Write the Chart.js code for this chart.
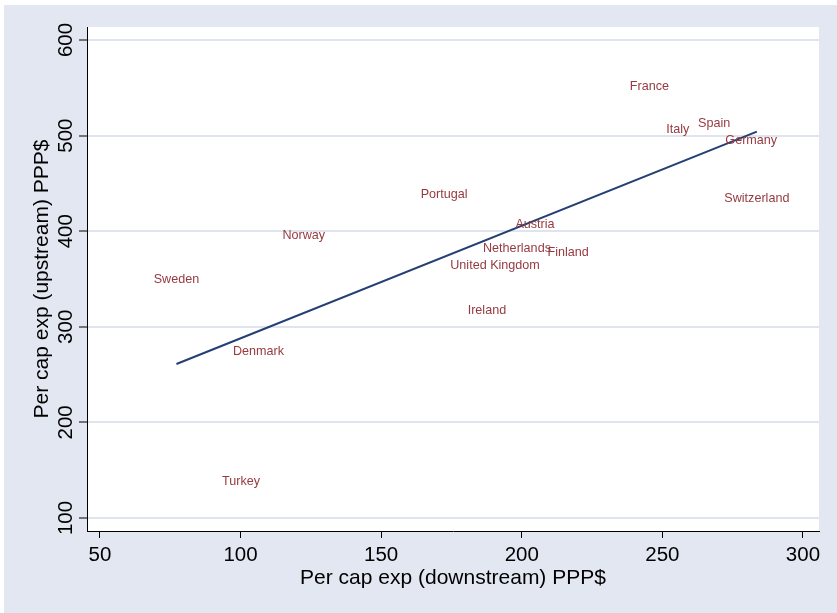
<!DOCTYPE html>
<html>
<head>
<meta charset="utf-8">
<script src="https://cdn.jsdelivr.net/npm/chart.js@4/dist/chart.umd.min.js"></script>
<style>
  html, body { margin: 0; padding: 0; background: #ffffff; }
  #frame { position: absolute; left: 4px; top: 5px; width: 833px; height: 608px; background: #e2e7f1; }
  canvas { display: block; }
</style>
</head>
<body>
<div id="frame"><canvas id="c" width="833" height="608"></canvas></div>
<script>
// Per-capita expenditure by country, PPP$
const countries  = ['France', 'Italy', 'Spain', 'Germany', 'Switzerland', 'Portugal', 'Austria',
                    'Netherlands', 'Finland', 'United Kingdom', 'Ireland', 'Norway', 'Sweden',
                    'Denmark', 'Turkey'];
const downstream = [245.4, 255.5, 268.4, 281.6, 283.6, 172.4, 204.7, 198.3, 216.5, 190.5, 187.6,
                    122.5, 77.2, 106.4, 100.2];
const upstream   = [552.2, 506.9, 513.5, 496.4, 435.5, 439.2, 407.8, 382.7, 378.6, 365.4, 318.6,
                    396.8, 350.3, 275.0, 139.7];

// Linear fit, endpoints at the smallest and largest downstream values
const fitX = [77.2, 283.6];
const fitY = [261.1, 504.1];

const xTicks = [50, 100, 150, 200, 250, 300];
const yTicks = [100, 200, 300, 400, 500, 600];

const xTitle = 'Per cap exp (downstream) PPP$';
const yTitle = 'Per cap exp (upstream) PPP$';

const FONT = '"Liberation Sans", Arial, Helvetica, sans-serif';
Chart.defaults.font.family = FONT;

const points = countries.map((c, i) => ({ x: downstream[i], y: upstream[i] }));
const fitPoints = fitX.map((x, i) => ({ x: x, y: fitY[i] }));

// White plot region, country names centred on each point, rotated y labels and axis titles
const annotate = {
  id: 'annotate',
  beforeDraw(chart) {
    const a = chart.chartArea;
    const ctx = chart.ctx;
    ctx.save();
    ctx.fillStyle = '#ffffff';
    ctx.fillRect(a.left, a.top, a.right - a.left, a.bottom - a.top);
    ctx.restore();
  },
  afterDatasetsDraw(chart) {
    const ctx = chart.ctx;
    const meta = chart.getDatasetMeta(0);
    ctx.save();
    ctx.font = '12.6px ' + FONT;
    ctx.fillStyle = '#963a40';
    ctx.textAlign = 'center';
    ctx.textBaseline = 'middle';
    meta.data.forEach((el, i) => ctx.fillText(countries[i], el.x, el.y + 1));
    ctx.restore();
  },
  afterDraw(chart) {
    const ctx = chart.ctx;
    const ys = chart.scales.y;
    const area = chart.chartArea;
    ctx.save();
    ctx.fillStyle = '#000000';
    // y tick labels, reading upward
    ctx.font = '20.5px ' + FONT;
    ctx.textAlign = 'center';
    ctx.textBaseline = 'alphabetic';
    yTicks.forEach(v => {
      const py = ys.getPixelForValue(v);
      ctx.save();
      ctx.translate(68, py);
      ctx.rotate(-Math.PI / 2);
      ctx.fillText(String(v), 0, 0);
      ctx.restore();
    });
    // axis titles
    ctx.font = '21px ' + FONT;
    ctx.fillText(xTitle, (area.left + area.right) / 2, 579);
    ctx.save();
    ctx.translate(44, (area.top + area.bottom) / 2);
    ctx.rotate(-Math.PI / 2);
    ctx.fillText(yTitle, 0, 0);
    ctx.restore();
    ctx.restore();
  }
};

new Chart(document.getElementById('c'), {
  type: 'scatter',
  data: {
    datasets: [
      {
        label: 'countries',
        data: points,
        pointRadius: 0,
        pointHoverRadius: 0,
        showLine: false
      },
      {
        label: 'fit',
        type: 'line',
        data: fitPoints,
        borderColor: '#233f74',
        borderWidth: 2,
        pointRadius: 0,
        fill: false,
        tension: 0
      }
    ]
  },
  options: {
    responsive: false,
    animation: false,
    devicePixelRatio: 1,
    layout: { padding: { top: 22, right: 18, left: 0, bottom: 0 } },
    plugins: {
      legend: { display: false },
      tooltip: { enabled: false }
    },
    scales: {
      x: {
        type: 'linear',
        min: 45.4,
        max: 305.7,
        afterBuildTicks: s => { s.ticks = xTicks.map(v => ({ value: v })); },
        afterFit: s => { s.height = 82; },
        border: { display: true, color: '#000000', width: 1 },
        grid: { drawOnChartArea: false, drawTicks: true, tickLength: 7, tickColor: '#000000', tickWidth: 1 },
        ticks: { color: '#000000', font: { size: 20.5 }, padding: 5, maxRotation: 0, minRotation: 0 }
      },
      y: {
        type: 'linear',
        min: 86.4,
        max: 613.6,
        afterBuildTicks: s => { s.ticks = yTicks.map(v => ({ value: v })); },
        afterFit: s => { s.width = 83; },
        border: { display: true, color: '#000000', width: 1 },
        grid: { drawOnChartArea: true, color: '#dfe4ef', lineWidth: 2, drawTicks: true, tickLength: 8, tickColor: '#000000', tickWidth: 1 },
        ticks: { display: false }
      }
    }
  },
  plugins: [annotate]
});
</script>
</body>
</html>
